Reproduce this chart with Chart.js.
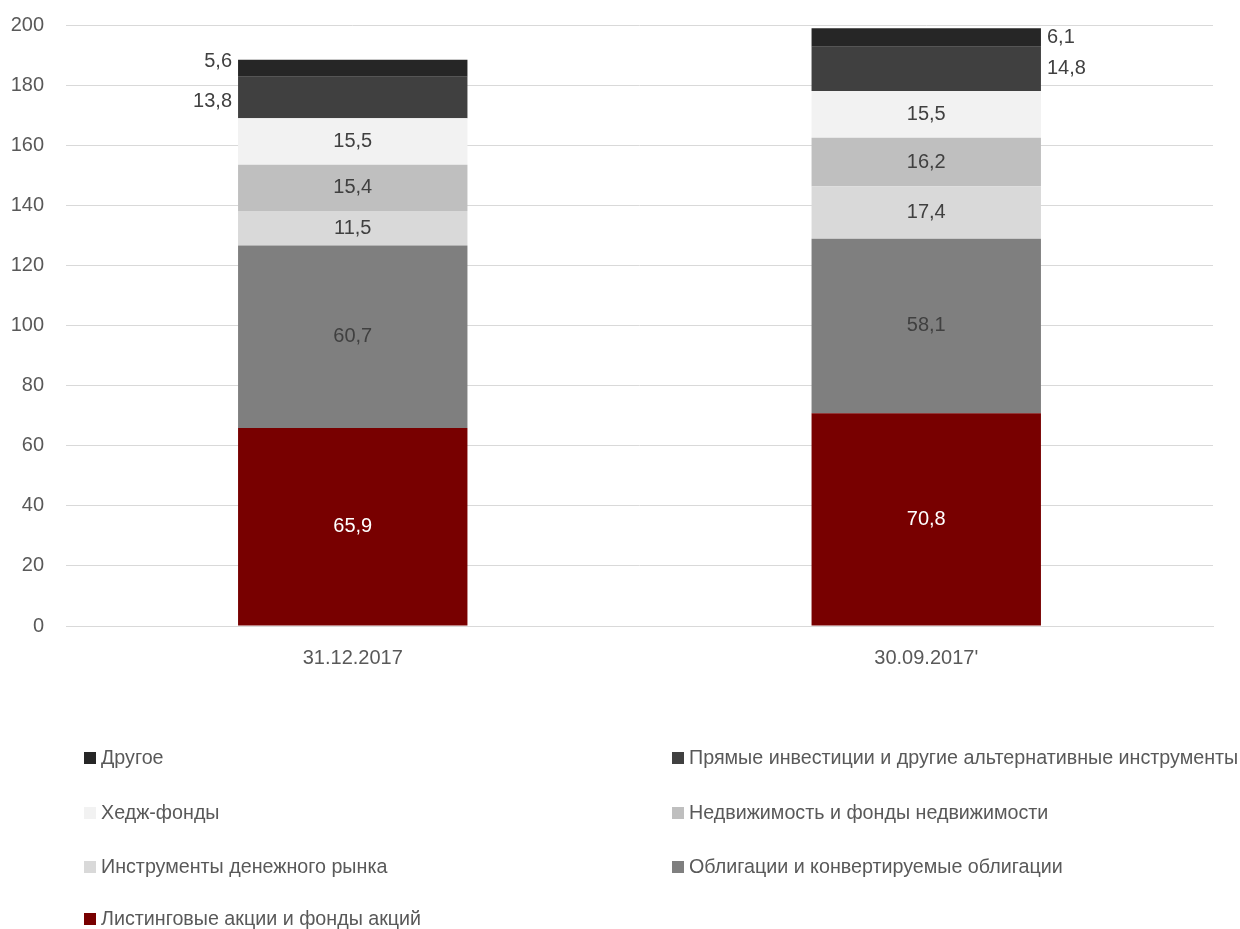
<!DOCTYPE html>
<html>
<head>
<meta charset="utf-8">
<script src="https://cdn.jsdelivr.net/npm/chart.js@4.4.1/dist/chart.umd.min.js"></script>
<style>
  body { margin: 0; background: #fff; font-family: "Liberation Sans", Arial, sans-serif; overflow: hidden; }
  #wrap { position: relative; width: 1240px; height: 929px; overflow: hidden; }
  #box { position: absolute; left: 0; top: -9px; width: 1240px; height: 709px; }
  #legend { position: absolute; left: 0; top: 0; width: 1240px; height: 929px; pointer-events: none; }
  .item { position: absolute; font-size: 19.7px; color: #595959; white-space: nowrap; line-height: 24px; }
  .item span.sw { display: inline-block; width: 12px; height: 12px; margin-right: 5px; vertical-align: 0px; }
</style>
</head>
<body>
<div id="wrap">
  <div id="box"><canvas id="chart"></canvas></div>
  <div id="legend"></div>
</div>
<script>
// Данные
const categories = ['31.12.2017', "30.09.2017'"];
const seriesNames = [
  'Листинговые акции и фонды акций',
  'Облигации и конвертируемые облигации',
  'Инструменты денежного рынка',
  'Недвижимость и фонды недвижимости',
  'Хедж-фонды',
  'Прямые инвестиции и другие альтернативные инструменты',
  'Другое'
];
const listed = [65.9, 70.8];
const bonds = [60.7, 58.1];
const moneyMarket = [11.5, 17.4];
const realEstate = [15.4, 16.2];
const hedge = [15.5, 15.5];
const privateEq = [13.8, 14.8];
const other = [5.6, 6.1];
const yTicks = [0, 20, 40, 60, 80, 100, 120, 140, 160, 180, 200];

const seriesValues = [listed, bonds, moneyMarket, realEstate, hedge, privateEq, other];
const colors = ['#780000', '#7f7f7f', '#d9d9d9', '#bfbfbf', '#f2f2f2', '#404040', '#262626'];
const labelColors = ['#ffffff', '#404040', '#404040', '#404040', '#404040', '#404040', '#404040'];
// верхние две серии подписаны снаружи столбца
const outside = [false, false, false, false, false, true, true];

const datasets = seriesNames.map((name, i) => ({
  label: name,
  data: seriesValues[i],
  backgroundColor: colors[i],
  borderWidth: 0,
  barPercentage: 0.4,
  categoryPercentage: 1.0
}));

// Подписи значений
const valueLabels = {
  id: 'valueLabels',
  afterDatasetsDraw(chart) {
    const ctx = chart.ctx;
    ctx.save();
    ctx.font = '20px "Liberation Sans", Arial, sans-serif';
    ctx.textBaseline = 'middle';
    chart.data.datasets.forEach((ds, i) => {
      const meta = chart.getDatasetMeta(i);
      meta.data.forEach((bar, j) => {
        const txt = ds.data[j].toFixed(1).replace('.', ',');
        const y = (bar.y + bar.base) / 2;
        const half = bar.width / 2;
        ctx.fillStyle = labelColors[i];
        if (outside[i]) {
          if (j === 0) {
            ctx.textAlign = 'right';
            // слегка разводим подписи, как в оригинале
            ctx.fillText(txt, bar.x - half - 6, y + (i === 6 ? -7 : 4));
          } else {
            ctx.textAlign = 'left';
            ctx.fillText(txt, bar.x + half + 6, y);
          }
        } else {
          ctx.textAlign = 'center';
          ctx.fillText(txt, bar.x, y);
        }
      });
    });
    ctx.restore();
  }
};

const chart = new Chart(document.getElementById('chart'), {
  type: 'bar',
  data: { labels: categories, datasets },
  options: {
    responsive: true,
    maintainAspectRatio: false,
    animation: false,
    layout: { padding: { top: 16, right: 27, left: 0, bottom: 0 } },
    plugins: { legend: { display: false }, tooltip: { enabled: false } },
    scales: {
      x: {
        stacked: true,
        grid: { display: false, drawTicks: false },
        border: { color: '#d9d9d9', width: 1 },
        ticks: { color: '#595959', font: { size: 20, family: '"Liberation Sans", Arial' }, padding: 20 },
        afterFit: s => { s.height = 74; }
      },
      y: {
        stacked: true,
        min: 0,
        max: 200,
        afterBuildTicks: s => { s.ticks = yTicks.map(v => ({ value: v })); },
        grid: { color: '#d9d9d9', drawTicks: false },
        border: { display: false },
        ticks: { color: '#595959', font: { size: 20, family: '"Liberation Sans", Arial' }, padding: 22 },
        afterFit: s => { s.width = 66; }
      }
    }
  },
  plugins: [valueLabels]
});

// Легенда в две колонки, в обратном порядке
const legend = document.getElementById('legend');
const order = seriesNames.map((_, i) => i).reverse();
const colX = [84, 672];
const rowY = [745, 800, 854, 906];
order.forEach((idx, k) => {
  const el = document.createElement('div');
  el.className = 'item';
  el.style.left = colX[k % 2] + 'px';
  el.style.top = rowY[Math.floor(k / 2)] + 'px';
  el.innerHTML = '<span class="sw" style="background:' + colors[idx] + '"></span>' + seriesNames[idx];
  legend.appendChild(el);
});
</script>
</body>
</html>
